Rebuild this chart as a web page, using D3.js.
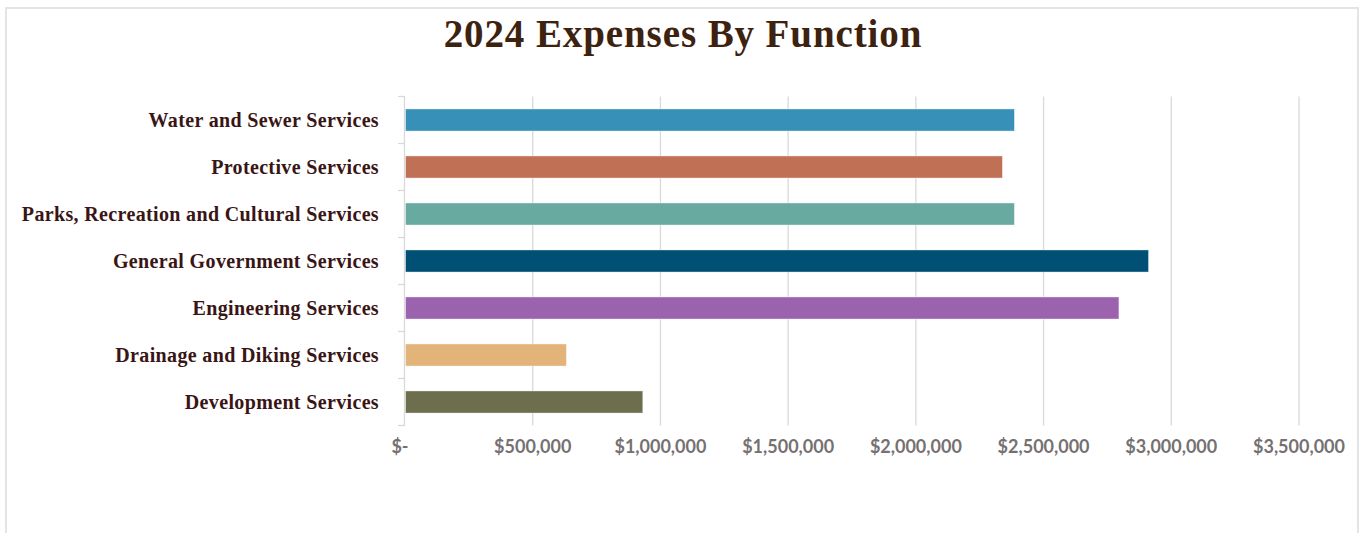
<!DOCTYPE html>
<html>
<head>
<meta charset="utf-8">
<script src="https://cdn.jsdelivr.net/npm/d3@7"></script>
<style>
  html, body { margin: 0; padding: 0; background: #ffffff; }
  svg { display: block; }
</style>
</head>
<body>
<svg id="chart" width="1360" height="533"></svg>
<script>
// 2024 expenses by function (CAD)
const categories = [
  "Water and Sewer Services",
  "Protective Services",
  "Parks, Recreation and Cultural Services",
  "General Government Services",
  "Engineering Services",
  "Drainage and Diking Services",
  "Development Services"
];
const expenses = [2384000, 2337000, 2384000, 2909000, 2793000, 630000, 929000];
const barColors = ["#3790b8", "#c07055", "#69aaa0", "#004f74", "#9b63ad", "#e2b47a", "#6d6e4e"];
const xTickValues = [0, 500000, 1000000, 1500000, 2000000, 2500000, 3000000, 3500000];
const xTickLabels = ["$-", "$500,000", "$1,000,000", "$1,500,000", "$2,000,000", "$2,500,000", "$3,000,000", "$3,500,000"];

const svg = d3.select("#chart");
const W = 1360, H = 533;

// outer frame
svg.append("rect")
  .attr("x", 6).attr("y", 8)
  .attr("width", W - 8).attr("height", H + 10)
  .attr("fill", "#ffffff")
  .attr("stroke", "#e4e4e4").attr("stroke-width", 2);

// title
svg.append("text")
  .attr("x", 683).attr("y", 47)
  .attr("text-anchor", "middle")
  .attr("font-family", "'Liberation Serif', 'DejaVu Serif', serif")
  .attr("font-weight", "bold")
  .attr("font-size", 39)
  .attr("letter-spacing", 0.9)
  .attr("fill", "#3d2210")
  .text("2024 Expenses By Function");

const plot = { left: 405, right: 1299, top: 96.5, bottom: 425.5 };

const x = d3.scaleLinear().domain([0, 3500000]).range([plot.left, plot.right]);
const y = d3.scaleBand().domain(categories).range([plot.top, plot.bottom]).paddingInner(0.53).paddingOuter(0.265);

// vertical gridlines
svg.append("g")
  .selectAll("line")
  .data(xTickValues.slice(1))
  .join("line")
  .attr("x1", d => x(d)).attr("x2", d => x(d))
  .attr("y1", plot.top).attr("y2", plot.bottom)
  .attr("stroke", "#d9d9d9").attr("stroke-width", 1.3);

// category axis line with tick marks at band edges
const step = (plot.bottom - plot.top) / categories.length;
const yAxisG = svg.append("g");
yAxisG.append("line")
  .attr("x1", plot.left - 0.5).attr("x2", plot.left - 0.5)
  .attr("y1", plot.top).attr("y2", plot.bottom)
  .attr("stroke", "#d9d9d9").attr("stroke-width", 1.3);
yAxisG.selectAll("line.tick")
  .data(d3.range(categories.length + 1))
  .join("line")
  .attr("class", "tick")
  .attr("x1", plot.left - 7).attr("x2", plot.left)
  .attr("y1", i => plot.top + i * step).attr("y2", i => plot.top + i * step)
  .attr("stroke", "#d9d9d9").attr("stroke-width", 1.3);

// bars
svg.append("g")
  .selectAll("rect")
  .data(categories)
  .join("rect")
  .attr("x", x(0) + 0.5)
  .attr("y", d => y(d))
  .attr("width", (d, i) => x(expenses[i]) - x(0))
  .attr("height", y.bandwidth())
  .attr("fill", (d, i) => barColors[i])
  .attr("stroke", "#ffffff").attr("stroke-opacity", 0.5).attr("stroke-width", 0.8);

// category labels
svg.append("g")
  .selectAll("text")
  .data(categories)
  .join("text")
  .attr("x", 379)
  .attr("y", d => y(d) + y.bandwidth() / 2)
  .attr("dy", "0.35em")
  .attr("text-anchor", "end")
  .attr("font-family", "'Liberation Serif', 'DejaVu Serif', serif")
  .attr("font-weight", "bold")
  .attr("font-size", 20)
  .attr("letter-spacing", 0.35)
  .attr("fill", "#3a1515")
  .text(d => d);

// value axis labels
svg.append("g")
  .selectAll("text")
  .data(xTickValues)
  .join("text")
  .attr("x", d => x(d))
  .attr("dx", d => d === 0 ? -5 : 0)
  .attr("y", 453)
  .attr("text-anchor", "middle")
  .attr("font-family", "Lato, 'Open Sans', sans-serif")
  .attr("font-weight", "bold")
  .attr("font-size", 18)
  .attr("fill", "#767171")
  .text((d, i) => xTickLabels[i]);
</script>
</body>
</html>
